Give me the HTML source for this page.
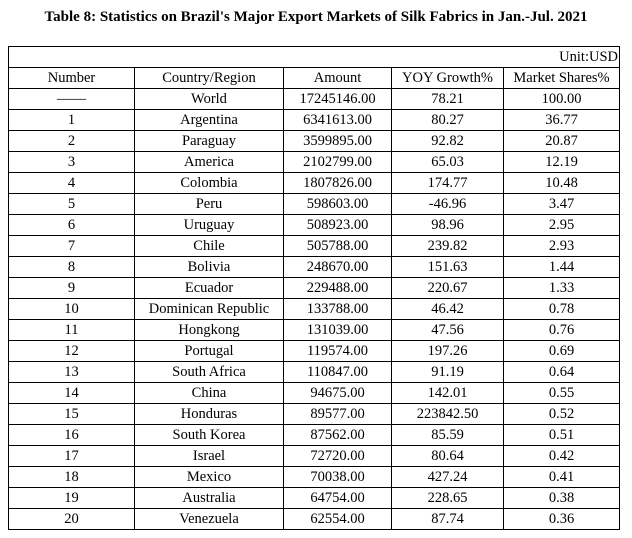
<!DOCTYPE html>
<html><head><style>
body{margin:0;background:#fff;width:632px;height:538px;position:relative;font-family:"Liberation Serif",serif;}
.t{position:absolute;left:0;width:632px;top:9px;text-align:center;font-weight:bold;font-size:15px;}
table{position:absolute;left:8px;top:46px;border-collapse:collapse;font-size:14.5px;}
td{border:1px solid #000;padding:0;text-align:center;height:20px;line-height:20px;white-space:nowrap;}
</style></head><body>
<div class="t">Table 8: Statistics on Brazil's Major Export Markets of Silk Fabrics in Jan.-Jul. 2021</div>
<table>
<colgroup><col style="width:126px"><col style="width:149px"><col style="width:108px"><col style="width:112px"><col style="width:116px"></colgroup>
<tr><td colspan="5" style="text-align:right;height:19px;padding-right:1px">Unit:USD</td></tr>
<tr><td>Number</td><td>Country/Region</td><td>Amount</td><td>YOY Growth%</td><td>Market Shares%</td></tr>
<tr><td>——</td><td>World</td><td>17245146.00</td><td>78.21</td><td>100.00</td></tr>
<tr><td>1</td><td>Argentina</td><td>6341613.00</td><td>80.27</td><td>36.77</td></tr>
<tr><td>2</td><td>Paraguay</td><td>3599895.00</td><td>92.82</td><td>20.87</td></tr>
<tr><td>3</td><td>America</td><td>2102799.00</td><td>65.03</td><td>12.19</td></tr>
<tr><td>4</td><td>Colombia</td><td>1807826.00</td><td>174.77</td><td>10.48</td></tr>
<tr><td>5</td><td>Peru</td><td>598603.00</td><td>-46.96</td><td>3.47</td></tr>
<tr><td>6</td><td>Uruguay</td><td>508923.00</td><td>98.96</td><td>2.95</td></tr>
<tr><td>7</td><td>Chile</td><td>505788.00</td><td>239.82</td><td>2.93</td></tr>
<tr><td>8</td><td>Bolivia</td><td>248670.00</td><td>151.63</td><td>1.44</td></tr>
<tr><td>9</td><td>Ecuador</td><td>229488.00</td><td>220.67</td><td>1.33</td></tr>
<tr><td>10</td><td>Dominican Republic</td><td>133788.00</td><td>46.42</td><td>0.78</td></tr>
<tr><td>11</td><td>Hongkong</td><td>131039.00</td><td>47.56</td><td>0.76</td></tr>
<tr><td>12</td><td>Portugal</td><td>119574.00</td><td>197.26</td><td>0.69</td></tr>
<tr><td>13</td><td>South Africa</td><td>110847.00</td><td>91.19</td><td>0.64</td></tr>
<tr><td>14</td><td>China</td><td>94675.00</td><td>142.01</td><td>0.55</td></tr>
<tr><td>15</td><td>Honduras</td><td>89577.00</td><td>223842.50</td><td>0.52</td></tr>
<tr><td>16</td><td>South Korea</td><td>87562.00</td><td>85.59</td><td>0.51</td></tr>
<tr><td>17</td><td>Israel</td><td>72720.00</td><td>80.64</td><td>0.42</td></tr>
<tr><td>18</td><td>Mexico</td><td>70038.00</td><td>427.24</td><td>0.41</td></tr>
<tr><td>19</td><td>Australia</td><td>64754.00</td><td>228.65</td><td>0.38</td></tr>
<tr><td>20</td><td>Venezuela</td><td>62554.00</td><td>87.74</td><td>0.36</td></tr>
</table>
</body></html>
